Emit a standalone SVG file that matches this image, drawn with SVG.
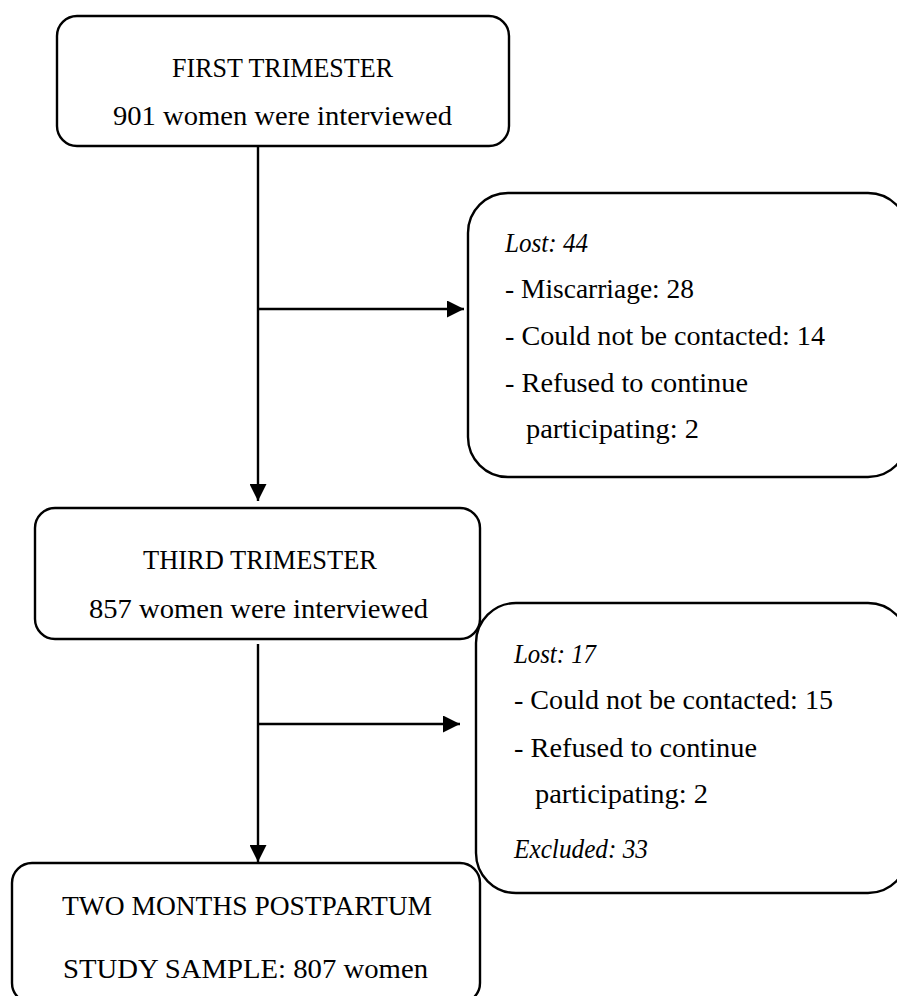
<svg xmlns="http://www.w3.org/2000/svg" width="897" height="996" viewBox="0 0 897 996">
<defs>
<style>
.box{fill:#fff;stroke:#000;stroke-width:2.4}
.t{font-family:"Liberation Serif","Times New Roman",serif;font-size:27.5px;fill:#000}
.i{font-style:italic}
.ln{stroke:#000;stroke-width:2.4;fill:none}
</style>
<marker id="ah" markerUnits="userSpaceOnUse" markerWidth="18" markerHeight="17" refX="17" refY="8.5" orient="auto">
<path d="M0,0 L17,8.5 L0,17 Z" fill="#000"/>
</marker>
</defs>
<rect width="897" height="996" fill="#fff"/>
<g id="connectors">
<line class="ln" x1="258" y1="146" x2="258" y2="501" marker-end="url(#ah)"/>
<line class="ln" x1="259" y1="309" x2="464" y2="309" marker-end="url(#ah)"/>
<line class="ln" x1="258" y1="644" x2="258" y2="862" marker-end="url(#ah)"/>
<line class="ln" x1="259" y1="724" x2="460" y2="724" marker-end="url(#ah)"/>
</g>
<g id="first-trimester">
<rect class="box" x="57" y="16" width="452" height="130" rx="20"/>
<text class="t" x="172" y="77" textLength="221" lengthAdjust="spacingAndGlyphs">FIRST TRIMESTER</text>
<text class="t" x="113" y="125" textLength="339" lengthAdjust="spacingAndGlyphs">901 women were interviewed</text>
</g>
<g id="lost-44">
<rect class="box" x="468" y="193" width="440" height="284" rx="40"/>
<text class="t i" x="505" y="252" textLength="83" lengthAdjust="spacingAndGlyphs">Lost: 44</text>
<text class="t" x="505" y="298" textLength="189" lengthAdjust="spacingAndGlyphs">- Miscarriage: 28</text>
<text class="t" x="505" y="345" textLength="320" lengthAdjust="spacingAndGlyphs">- Could not be contacted: 14</text>
<text class="t" x="505" y="392" textLength="243" lengthAdjust="spacingAndGlyphs">- Refused to continue</text>
<text class="t" x="526" y="438" textLength="173" lengthAdjust="spacingAndGlyphs">participating: 2</text>
</g>
<g id="third-trimester">
<rect class="box" x="35" y="508" width="445" height="131" rx="20"/>
<text class="t" x="143" y="569" textLength="234" lengthAdjust="spacingAndGlyphs">THIRD TRIMESTER</text>
<text class="t" x="89" y="618" textLength="339" lengthAdjust="spacingAndGlyphs">857 women were interviewed</text>
</g>
<g id="lost-17">
<rect class="box" x="476" y="603" width="432" height="290" rx="40"/>
<text class="t i" x="514" y="663" textLength="82" lengthAdjust="spacingAndGlyphs">Lost: 17</text>
<text class="t" x="514" y="709" textLength="319" lengthAdjust="spacingAndGlyphs">- Could not be contacted: 15</text>
<text class="t" x="514" y="757" textLength="243" lengthAdjust="spacingAndGlyphs">- Refused to continue</text>
<text class="t" x="535" y="803" textLength="173" lengthAdjust="spacingAndGlyphs">participating: 2</text>
<text class="t i" x="514" y="858" textLength="134" lengthAdjust="spacingAndGlyphs">Excluded: 33</text>
</g>
<g id="two-months-postpartum">
<rect class="box" x="12" y="863" width="468" height="140" rx="20"/>
<text class="t" x="62" y="915" textLength="370" lengthAdjust="spacingAndGlyphs">TWO MONTHS POSTPARTUM</text>
<text class="t" x="63" y="978" textLength="365" lengthAdjust="spacingAndGlyphs">STUDY SAMPLE: 807 women</text>
</g>
</svg>
